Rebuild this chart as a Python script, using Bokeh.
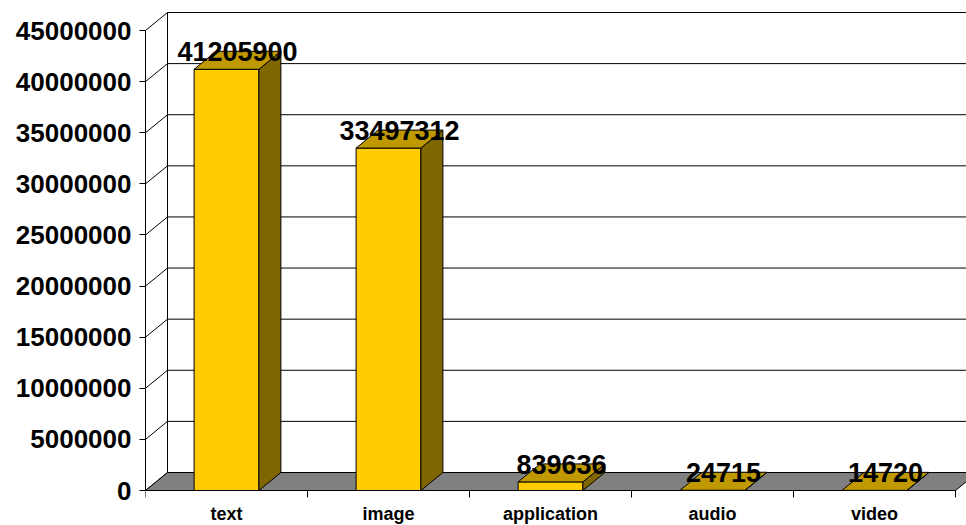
from bokeh.plotting import figure
from bokeh.models import Range1d, FixedTicker, NumeralTickFormatter, ColumnDataSource
from bokeh.core.properties import value
from bokeh.embed import file_html
from bokeh.resources import INLINE

categories = ["text", "image", "application", "audio", "video"]
counts = [41205900, 33497312, 839636, 24715, 14720]
y_ticks = [0, 5000000, 10000000, 15000000, 20000000, 25000000,
           30000000, 35000000, 40000000, 45000000]

# scale helpers (pixels -> data units)
PX_X = 1 / 162.0          # category units per pixel
PX_Y = 1e6 / 10.222       # value units per pixel

DX = 22 * PX_X            # 3D depth offset
DY = 18 * PX_Y
HALF_W = 0.2
X_END = 821 * PX_X
Y_END = 485 * PX_Y
Y_START = -35 * PX_Y
FONT = "Liberation Sans"

p = figure(width=966, height=525, output_backend="svg", toolbar_location=None,
           x_range=Range1d(0, X_END), y_range=Range1d(Y_START, Y_END),
           x_axis_location=None,
           min_border_left=145, min_border_right=0, min_border_top=5,
           min_border_bottom=0)
p.outline_line_color = None
p.grid.visible = False
p.background_fill_color = "white"
p.border_fill_color = "white"

ymax = y_ticks[-1]
n = len(categories)

# left side wall diagonals
p.segment(x0=[0] * len(y_ticks), y0=y_ticks,
          x1=[DX] * len(y_ticks), y1=[t + DY for t in y_ticks],
          line_color="black", line_width=1)
# back vertical edge
p.segment(x0=[DX], y0=[DY], x1=[DX], y1=[ymax + DY], line_color="black", line_width=1)
# back wall gridlines
p.segment(x0=[DX] * (len(y_ticks) - 1), y0=[t + DY for t in y_ticks[1:]],
          x1=[X_END] * (len(y_ticks) - 1), y1=[t + DY for t in y_ticks[1:]],
          line_color="black", line_width=1)

# floor
p.patch(x=[0, n, n + DX, DX], y=[0, 0, DY, DY],
        fill_color="#808080", line_color="black", line_width=1)

# category axis line and tick marks
p.segment(x0=[0], y0=[0], x1=[n], y1=[0], line_color="black", line_width=1)
p.segment(x0=list(range(n + 1)), y0=[0] * (n + 1),
          x1=list(range(n + 1)), y1=[-7 * PX_Y] * (n + 1),
          line_color="black", line_width=1)

# bars
xc = [i + 0.5 for i in range(n)]
lefts = [c - HALF_W for c in xc]
rights = [c + HALF_W for c in xc]
side_xs = [[r, r + DX, r + DX, r] for r in rights]
side_ys = [[0, DY, v + DY, v] for v in counts]
top_xs = [[l, r, r + DX, l + DX] for l, r in zip(lefts, rights)]
top_ys = [[v, v, v + DY, v + DY] for v in counts]

for i in range(n):
    p.quad(left=[lefts[i]], right=[rights[i]], bottom=[0], top=[counts[i]],
           fill_color="#FFCC00", line_color="black", line_width=1)
    p.patch(x=side_xs[i], y=side_ys[i], fill_color="#806600",
            line_color="black", line_width=1)
    p.patch(x=top_xs[i], y=top_ys[i], fill_color="#C09900",
            line_color="black", line_width=1)

# data labels
lab = ColumnDataSource(dict(x=[c + DX / 2 for c in xc],
                            y=[v + 17.5 * PX_Y for v in counts],
                            t=[str(v) for v in counts]))
p.text(x="x", y="y", text="t", source=lab, text_align="center",
       text_baseline="middle", text_font=value(FONT), text_font_size="27px",
       text_font_style="bold", text_color="black")

# category labels
cat = ColumnDataSource(dict(x=xc, y=[-23 * PX_Y] * n, t=categories))
p.text(x="x", y="y", text="t", source=cat, text_align="center",
       text_baseline="middle", text_font=value(FONT), text_font_size="18px",
       text_font_style="bold", text_color="black")

# y axis
ya = p.yaxis[0]
ya.ticker = FixedTicker(ticks=y_ticks, minor_ticks=[])
ya.formatter = NumeralTickFormatter(format="0")
ya.bounds = (0, ymax)
ya.major_tick_out = 6
ya.major_tick_in = 0
ya.minor_tick_out = 0
ya.minor_tick_in = 0
ya.major_label_standoff = 8
ya.major_label_text_font = FONT
ya.major_label_text_font_size = "26px"
ya.major_label_text_font_style = "bold"
ya.major_label_text_color = "black"
ya.axis_line_color = "black"

open("out.html", "w").write(file_html(p, INLINE))
